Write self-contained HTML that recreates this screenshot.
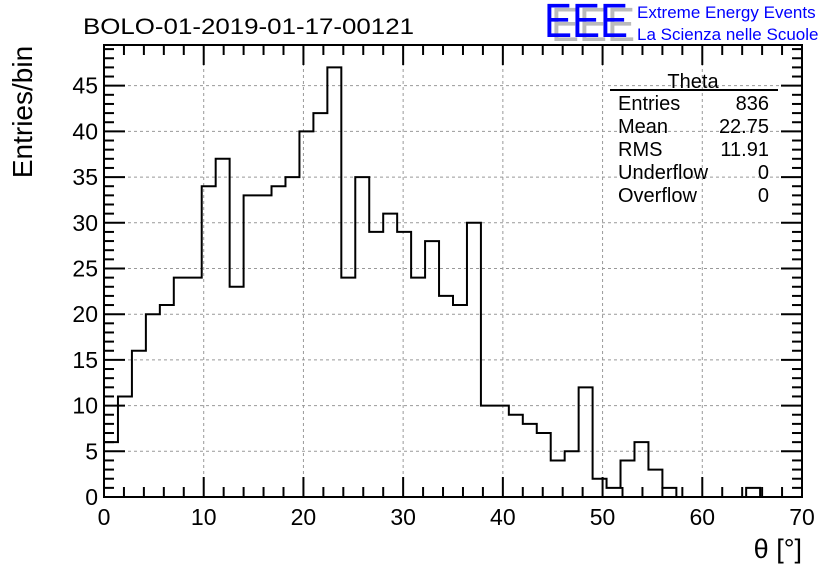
<!DOCTYPE html>
<html><head><meta charset="utf-8"><style>
body{margin:0;background:#fff}
svg{display:block;font-family:"Liberation Sans",sans-serif}
</style></head><body>
<svg id="chart" width="836" height="572" viewBox="0 0 836 572">
<g id="grid"></g>
<g id="ticks"></g>
<path id="hist" fill="none" stroke="#000" stroke-width="2"/>
<rect x="104" y="45" width="698" height="452" fill="none" stroke="#000" stroke-width="2"/>
<text x="83" y="34" font-size="22" textLength="331" lengthAdjust="spacingAndGlyphs">BOLO-01-2019-01-17-00121</text>
<text transform="translate(32,112) rotate(-90)" text-anchor="middle" font-size="28">Entries/bin</text>
<text x="802" y="558" text-anchor="end" font-size="27">θ [°]</text>
<g>
<text x="551" y="41" font-size="48" fill="#bbb" textLength="84" lengthAdjust="spacingAndGlyphs">EEE</text>
<text x="544" y="37" font-size="48" fill="#0000ff" textLength="84" lengthAdjust="spacingAndGlyphs">EEE</text>
<text x="637" y="18" font-size="17" fill="#0000ff">Extreme Energy Events</text>
<text x="637" y="40" font-size="17" fill="#0000ff">La Scienza nelle Scuole</text>
</g>
<g font-size="20">
<text x="693" y="88" text-anchor="middle">Theta</text>
<line x1="610" y1="90" x2="778" y2="90" stroke="#000" stroke-width="2"/>
<text x="618" y="110">Entries</text><text x="769" y="110" text-anchor="end">836</text>
<text x="618" y="133">Mean</text><text x="769" y="133" text-anchor="end">22.75</text>
<text x="618" y="156">RMS</text><text x="769" y="156" text-anchor="end">11.91</text>
<text x="618" y="179">Underflow</text><text x="769" y="179" text-anchor="end">0</text>
<text x="618" y="202">Overflow</text><text x="769" y="202" text-anchor="end">0</text>
</g>
</svg>
<script>
const binEdgesStart = [0];
const binWidth = [1.4];
const counts = [6,11,16,20,21,24,24,34,37,23,33,33,34,35,40,42,47,24,35,29,31,29,24,28,22,21,30,10,10,9,8,7,4,5,12,2,1,4,6,3,1,0,0,0,0,0,1,0,0,0];
const xTickLabels = [0,10,20,30,40,50,60,70];
const yTickLabels = [0,5,10,15,20,25,30,35,40,45];
const X0=104,X1=802,Y0=497,Y1=45,XMAX=70,YMAX=49.45;
const sx=v=>X0+(v/XMAX)*(X1-X0);
const sy=v=>Y0-(v/YMAX)*(Y0-Y1);
const NS="http://www.w3.org/2000/svg";
const svg=document.getElementById('chart');
const grid=document.getElementById('grid'), ticks=document.getElementById('ticks');
function ln(p,x1,y1,x2,y2,attrs){const l=document.createElementNS(NS,'line');l.setAttribute('x1',x1);l.setAttribute('y1',y1);l.setAttribute('x2',x2);l.setAttribute('y2',y2);for(const k in attrs)l.setAttribute(k,attrs[k]);p.appendChild(l);return l;}
function tx(x,y,s,anchor){const t=document.createElementNS(NS,'text');t.setAttribute('x',x);t.setAttribute('y',y);t.setAttribute('font-size','23');t.setAttribute('text-anchor',anchor);t.textContent=s;svg.appendChild(t);return t;}
const gs={stroke:'#999','stroke-width':1,'stroke-dasharray':'3,3'};
const ts={stroke:'#000','stroke-width':2};
xTickLabels.forEach(v=>{
  const x=sx(v);
  if(v>0&&v<XMAX){const g=ln(grid,x,Y1,x,Y0,gs);
  
  }
  ln(ticks,x,Y0,x,Y0-20,ts);ln(ticks,x,Y1,x,Y1+20,ts);
  const t=tx(x,525,String(v),'middle');
  
  
});
for(let v=2;v<XMAX;v+=2){if(v%10===0)continue;const x=sx(v);ln(ticks,x,Y0,x,Y0-10,ts);ln(ticks,x,Y1,x,Y1+10,ts);}
yTickLabels.forEach(v=>{
  const y=sy(v);
  if(v>0){const g=ln(grid,X0,y,X1,y,gs);
  
  }
  ln(ticks,X0,y,X0+21,y,ts);ln(ticks,X1,y,X1-21,y,ts);
  const t=tx(98,y+8,String(v),'end');
  
  
});
for(let v=1;v<YMAX;v++){if(v%5===0)continue;const y=sy(v);ln(ticks,X0,y,X0+10,y,ts);ln(ticks,X1,y,X1-10,y,ts);}
let d='M'+sx(binEdgesStart[0])+','+sy(0);
counts.forEach((c,i)=>{const a=binEdgesStart[0]+i*binWidth[0],b=a+binWidth[0];d+=' L'+sx(a)+','+sy(c)+' L'+sx(b)+','+sy(c);});
document.getElementById('hist').setAttribute('d',d);
</script>
</body></html>
